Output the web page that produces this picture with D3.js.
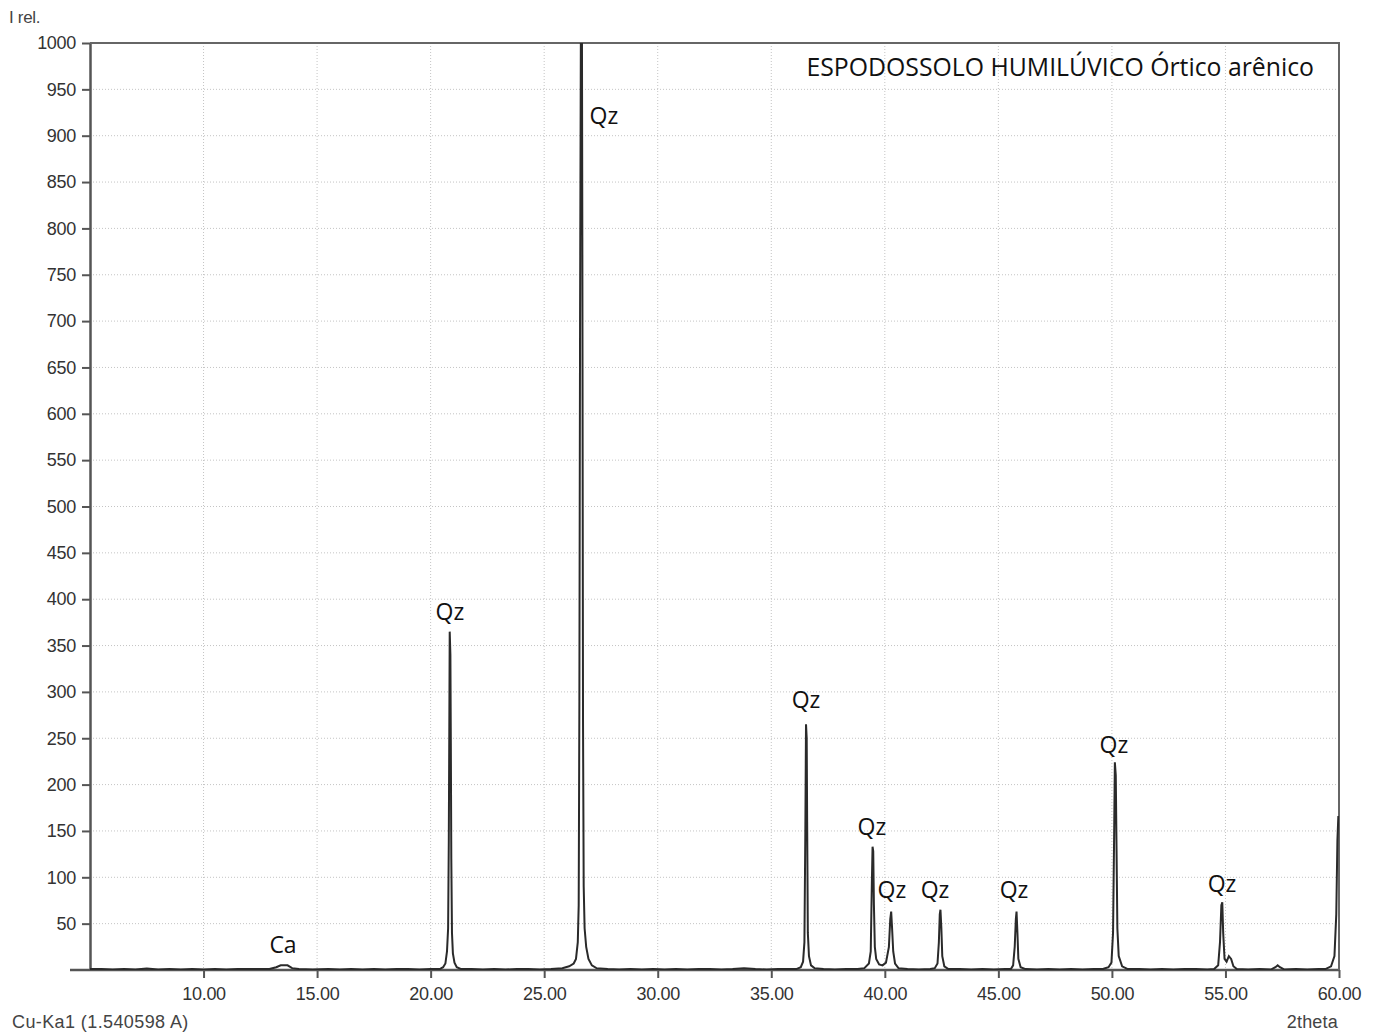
<!DOCTYPE html>
<html>
<head>
<meta charset="utf-8">
<script src="https://cdn.jsdelivr.net/npm/d3@7"></script>
<style>
  body { margin: 0; background: #fff; }
  svg text { font-family: "Liberation Sans", Arial, sans-serif; }
  .ann { font-family: "Open Sans", sans-serif; }
</style>
</head>
<body>
<svg id="xrd" width="1382" height="1036"></svg>
<script>
// diffractogram (2theta in degrees, relative intensity)
var twoTheta = [
  5.0, 5.5, 6.0, 6.5, 7.0, 7.5, 8.0, 8.5, 9.0, 9.5, 10.0, 10.5, 11.0, 11.5, 12.0, 12.5,
  12.9, 13.2, 13.4, 13.7, 13.9, 14.2, 14.8, 15.5, 16.0, 16.5, 17.0, 17.5, 18.0, 18.5, 19.0, 19.5, 20.0,
  20.40, 20.55, 20.65, 20.72, 20.77, 20.80, 20.82, 20.84, 20.87, 20.89, 20.91, 20.94, 20.98, 21.05, 21.15, 21.35,
  21.8, 22.3, 22.8, 23.3, 23.8, 24.3, 24.8, 25.3, 25.8,
  26.10, 26.30, 26.40, 26.48, 26.52, 26.55, 26.58, 26.62, 26.66, 26.68, 26.71, 26.74, 26.78, 26.85, 26.95, 27.10, 27.30,
  27.8, 28.3, 28.8, 29.3, 29.8, 30.3, 30.8, 31.3, 31.8, 32.3, 32.8, 33.3, 33.8, 34.3, 34.8, 35.3, 35.8,
  36.10, 36.30, 36.40, 36.46, 36.50, 36.53, 36.56, 36.58, 36.61, 36.66, 36.75, 36.90,
  37.3, 37.8, 38.3, 38.8,
  39.10, 39.30, 39.38, 39.43, 39.46, 39.49, 39.52, 39.56, 39.62, 39.75, 39.90,
  40.05, 40.18, 40.24, 40.28, 40.32, 40.37, 40.45, 40.60,
  41.0, 41.5, 42.0,
  42.20, 42.32, 42.38, 42.42, 42.45, 42.49, 42.53, 42.62, 42.80,
  43.3, 43.8, 44.3, 44.8, 45.3,
  45.55, 45.65, 45.72, 45.77, 45.80, 45.84, 45.88, 45.98, 46.20,
  46.7, 47.2, 47.7, 48.2, 48.7, 49.2,
  49.60, 49.85, 49.98, 50.05, 50.10, 50.13, 50.17, 50.20, 50.24, 50.30, 50.45, 50.70,
  51.2, 51.7, 52.2, 52.7, 53.2, 53.7, 54.2,
  54.50, 54.68, 54.76, 54.82, 54.86, 54.90, 54.96, 55.05, 55.15, 55.25, 55.35, 55.50,
  56.0, 56.5, 57.0, 57.2, 57.3, 57.4, 57.6, 58.1, 58.6, 59.1,
  59.40, 59.65, 59.80, 59.88, 59.93, 59.97, 60.0
];
var intensity = [
  1, 1, 0.5, 1, 0.5, 1.5, 0.5, 1, 0.5, 1, 0.5, 1, 0.5, 1, 1, 1,
  1, 3, 5, 5, 2, 1, 0.5, 1, 0.5, 1, 0.5, 1, 0.5, 1, 1, 0.5, 1,
  1, 3, 7, 20, 45, 140, 250, 365, 340, 240, 120, 40, 18, 8, 3, 1,
  1, 0.5, 1, 0.5, 1, 1, 0.5, 1, 2,
  4, 7, 12, 30, 70, 290, 700, 1050, 1050, 790, 270, 90, 45, 25, 12, 5, 2,
  1, 0.5, 1, 0.5, 1, 0.5, 1, 0.5, 1, 1, 0.5, 1, 2, 1, 0.5, 1, 1,
  1, 3, 9, 30, 150, 265, 250, 160, 40, 15, 5, 2,
  1, 0.5, 1, 1,
  2, 7, 20, 95, 133, 128, 70, 25, 12, 6, 5,
  8, 25, 55, 63, 45, 20, 7, 2,
  1, 0.5, 1,
  2, 7, 30, 60, 65, 45, 15, 4, 1,
  1, 0.5, 1, 0.5, 1,
  1, 5, 25, 55, 63, 40, 12, 3, 1,
  0.5, 1, 0.5, 1, 0.5, 1,
  1, 3, 8, 40, 150, 224, 210, 140, 45, 15, 4, 1,
  1, 0.5, 1, 0.5, 1, 1, 0.5,
  1, 5, 30, 70, 73, 40, 12, 9, 15, 12, 4, 1,
  0.5, 1, 0.5, 3, 5, 3, 0.5, 1, 0.5, 1,
  1, 4, 15, 60, 140, 165, 165
];

// phase labels (Qz = quartzo, Ca = caulinita) and where they sit
var labelText  = ["Ca", "Qz", "Qz", "Qz", "Qz", "Qz", "Qz", "Qz", "Qz", "Qz"];
var labelTheta = [13.50, 20.85, 27.63, 36.53, 39.43, 40.31, 42.21, 45.69, 50.09, 54.85];
var labelI     = [18, 378, 913, 283, 146, 78, 78, 78, 234, 84];

var xTicks = [10, 15, 20, 25, 30, 35, 40, 45, 50, 55, 60];
var yTicks = [50, 100, 150, 200, 250, 300, 350, 400, 450, 500, 550, 600, 650, 700, 750, 800, 850, 900, 950, 1000];

var title = "ESPODOSSOLO HUMILÚVICO Órtico arênico";

var svg = d3.select("#xrd"),
    margin = {top: 43, right: 43, bottom: 66, left: 90},
    width = +svg.attr("width") - margin.left - margin.right,
    height = +svg.attr("height") - margin.top - margin.bottom,
    g = svg.append("g").attr("transform", "translate(" + margin.left + "," + margin.top + ")");

var x = d3.scaleLinear().domain([5, 60]).range([0, width]);
var y = d3.scaleLinear().domain([0, 1000]).range([height, 0]);

svg.append("defs").append("clipPath").attr("id", "plot")
  .append("rect").attr("width", width).attr("height", height);

// dotted grid
g.append("g").selectAll("line").data(xTicks.slice(0, -1))
  .enter().append("line")
    .attr("x1", function(d) { return x(d); }).attr("x2", function(d) { return x(d); })
    .attr("y1", 0).attr("y2", height)
    .attr("stroke", "#c4c4c4").attr("stroke-dasharray", "1,2");
g.append("g").selectAll("line").data(yTicks.slice(0, -1))
  .enter().append("line")
    .attr("x1", 0).attr("x2", width)
    .attr("y1", function(d) { return y(d); }).attr("y2", function(d) { return y(d); })
    .attr("stroke", "#c4c4c4").attr("stroke-dasharray", "1,2");

// axes
var xAxis = g.append("g").attr("transform", "translate(0," + height + ")")
  .call(d3.axisBottom(x).tickValues(xTicks).tickFormat(d3.format(".2f")).tickSize(8).tickSizeOuter(0).tickPadding(7));
var yAxis = g.append("g")
  .call(d3.axisLeft(y).tickValues(yTicks).tickFormat(d3.format("d")).tickSize(8).tickSizeOuter(0).tickPadding(6));

[xAxis, yAxis].forEach(function(a) {
  a.select(".domain").attr("stroke", "#555").attr("stroke-width", 2.5);
  a.selectAll(".tick line").attr("stroke", "#555").attr("stroke-width", 2);
  a.selectAll(".tick text").attr("fill", "#333").style("font-size", "18px")
    .style("font-family", "'Liberation Sans', Arial, sans-serif").style("letter-spacing", "-0.3px");
});
xAxis.selectAll(".tick text").attr("dy", "0.85em");
xAxis.select(".domain").attr("d", "M-20,0H" + width);

// frame top + right
g.append("path")
  .attr("d", "M0,0H" + width + "V" + height)
  .attr("fill", "none").attr("stroke", "#666").attr("stroke-width", 2);

// pattern
var pts = twoTheta.map(function(t, i) { return [t, intensity[i]]; });
var line = d3.line()
  .x(function(d) { return x(d[0]); })
  .y(function(d) { return y(d[1]); });

g.append("path")
  .datum(pts)
  .attr("clip-path", "url(#plot)")
  .attr("d", line)
  .attr("fill", "none")
  .attr("stroke", "#2a2a2a")
  .attr("stroke-width", 2);

// peak labels
g.append("g").selectAll("text").data(labelText)
  .enter().append("text")
    .attr("class", "ann")
    .attr("x", function(d, i) { return x(labelTheta[i]); })
    .attr("y", function(d, i) { return y(labelI[i]); })
    .attr("text-anchor", "middle")
    .style("font-size", "23px")
    .attr("fill", "#111")
    .text(function(d) { return d; });

g.append("text")
  .attr("class", "ann")
  .attr("x", width - 25).attr("y", 33)
  .attr("text-anchor", "end")
  .style("font-size", "24.8px")
  .attr("fill", "#111")
  .text(title);

// axis captions
svg.append("text").attr("x", 9).attr("y", 23).style("font-size", "17px").attr("fill", "#444")
  .style("letter-spacing", "-0.3px").text("I rel.");
svg.append("text").attr("x", 12).attr("y", 1028).style("font-size", "18px").attr("fill", "#444")
  .style("letter-spacing", "0.4px").text("Cu-Ka1 (1.540598 A)");
svg.append("text").attr("x", 1338).attr("y", 1028).attr("text-anchor", "end").style("font-size", "18px")
  .attr("fill", "#444").style("letter-spacing", "0.2px").text("2theta");
</script>
</body>
</html>
